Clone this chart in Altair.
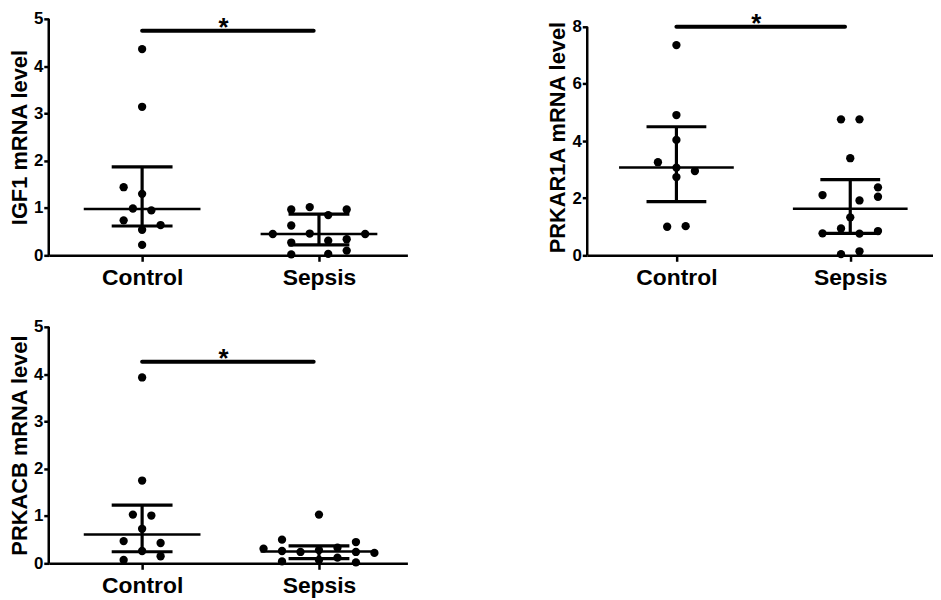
import altair as alt
import pandas as pd

CATEGORIES = ["Control", "Sepsis"]

# ---- IGF1 ----
IGF1_CTRL = [4.36, 3.14, 1.44, 1.30, 0.99, 0.95, 0.74, 0.64, 0.54, 0.22]
IGF1_CTRL_SLOT = [0, 0, -2, 0, -1, 1, -2, 2, 0, 0]
IGF1_SEPS = [1.02, 0.97, 0.97, 0.85, 0.63, 0.46, 0.45, 0.45, 0.34, 0.31, 0.27, 0.10, 0.03, 0.02]
IGF1_SEPS_SLOT = [-1, -3, 3, 1, -3, -1, -5, 5, 3, 1, -3, 3, 1, -3]
IGF1_MEDIAN = [0.98, 0.45]
IGF1_Q1 = [0.62, 0.22]
IGF1_Q3 = [1.87, 0.87]
IGF1_SIG = 4.75
IGF1_TICKS = [0, 1, 2, 3, 4, 5]

# ---- PRKAR1A ----
R1A_CTRL = [7.36, 4.91, 4.04, 3.26, 3.07, 2.95, 2.74, 1.00, 1.02]
R1A_CTRL_SLOT = [0, 0, 0, -2, 0, 2, 0, -1, 1]
R1A_SEPS = [4.76, 4.76, 3.40, 2.11, 2.38, 2.05, 1.92, 1.33, 0.77, 0.94, 0.76, 0.85, 0.04, 0.14]
R1A_SEPS_SLOT = [-1, 1, 0, -3, 3, 3, 1, 0, -3, -1, 1, 3, -1, 1]
R1A_MEDIAN = [3.07, 1.63]
R1A_Q1 = [1.88, 0.77]
R1A_Q3 = [4.50, 2.65]
R1A_SIG = 8.0
R1A_TICKS = [0, 2, 4, 6, 8]

# ---- PRKACB ----
CB_CTRL = [3.93, 1.75, 1.03, 1.01, 0.73, 0.47, 0.43, 0.26, 0.15, 0.07]
CB_CTRL_SLOT = [0, 0, -1, 1, 0, -2, 2, 0, 2, -2]
CB_SEPS = [1.03, 0.50, 0.45, 0.31, 0.26, 0.24, 0.28, 0.33, 0.24, 0.22, 0.04, 0.07, 0.12, 0.02]
CB_SEPS_SLOT = [0, -4, 4, -6, -4, -2, 0, 2, 4, 6, -4, 0, 2, 4]
CB_MEDIAN = [0.61, 0.25]
CB_Q1 = [0.245, 0.10]
CB_Q3 = [1.23, 0.37]
CB_SIG = 4.26
CB_TICKS = [0, 1, 2, 3, 4, 5]

SIG_FROM, SIG_TO, STAR_X = 0.0, 0.97, 0.46
MED_HALF, CAP_HALF = 0.33, 0.172
DOT_STEP_PX = 9.3
FONT = "Liberation Sans"


def make_panel(title, ctrl, ctrl_slot, seps, seps_slot, med, q1, q3, sig,
               yticks, ytop, width, height, xdom):
    ppu = width / (xdom[1] - xdom[0])
    u = DOT_STEP_PX / ppu
    pts = pd.DataFrame({
        "g": [0] * len(ctrl) + [1] * len(seps),
        "v": list(ctrl) + list(seps),
        "s": list(ctrl_slot) + list(seps_slot),
    })
    summ = pd.DataFrame({"g": [0, 1], "med": med, "q1": q1, "q3": q3})
    sigdf = pd.DataFrame({"a": [SIG_FROM], "b": [SIG_TO], "m": [STAR_X],
                          "y": [sig], "t": ["*"]})
    axdf = pd.DataFrame({"y0": [yticks[0]], "y1": [yticks[-1]]})

    xscale = alt.Scale(domain=list(xdom), nice=False, zero=False)
    yscale = alt.Scale(domain=[0, ytop], nice=False, zero=True)
    xaxis = alt.Axis(
        values=[0, 1],
        labelExpr=f"datum.value == 0 ? '{CATEGORIES[0]}' : '{CATEGORIES[1]}'",
        title=None, grid=False, labelFlush=False, labelOverlap=False,
        tickSize=6, tickWidth=2.5, domainWidth=2.5, labelPadding=5,
        labelFontSize=23, labelFontWeight="bold",
    )
    yaxis = alt.Axis(
        values=yticks, title=title, grid=False, domain=False,
        tickSize=5, tickWidth=2.5, labelPadding=1,
        labelFontSize=17, labelFontWeight="bold",
        titleFontSize=22, titleFontWeight="bold", titlePadding=2,
    )

    def X(f):
        return alt.X(f, type="quantitative", scale=xscale, axis=xaxis)

    def Y(f):
        return alt.Y(f, type="quantitative", scale=yscale, axis=yaxis)

    yline = (alt.Chart(axdf)
             .mark_rule(color="black", strokeWidth=2.5)
             .encode(x=alt.value(0), y=Y("y0"), y2=alt.Y2("y1:Q")))
    points = (alt.Chart(pts)
              .transform_calculate(px=f"datum.g + datum.s * {u}")
              .mark_circle(size=70, color="black", opacity=1)
              .encode(x=X("px"), y=Y("v")))
    vert = (alt.Chart(summ)
            .mark_rule(color="black", strokeWidth=3.2)
            .encode(x=X("g"), y=Y("q1"), y2=alt.Y2("q3:Q")))
    caps = (alt.Chart(summ)
            .transform_fold(["q1", "q3"], as_=["k", "qv"])
            .transform_calculate(l=f"datum.g - {CAP_HALF}", r=f"datum.g + {CAP_HALF}")
            .mark_rule(color="black", strokeWidth=3.2)
            .encode(x=X("l"), x2=alt.X2("r:Q"), y=Y("qv")))
    medians = (alt.Chart(summ)
               .transform_calculate(l=f"datum.g - {MED_HALF}", r=f"datum.g + {MED_HALF}")
               .mark_rule(color="black", strokeWidth=2.5)
               .encode(x=X("l"), x2=alt.X2("r:Q"), y=Y("med")))
    sigbar = (alt.Chart(sigdf)
              .mark_rule(color="black", strokeWidth=4, strokeCap="round")
              .encode(x=X("a"), x2=alt.X2("b:Q"), y=Y("y")))
    star = (alt.Chart(sigdf)
            .mark_text(fontSize=26, fontWeight="bold", color="black",
                       baseline="alphabetic", dy=5)
            .encode(x=X("m"), y=Y("y"), text="t:N"))
    return alt.layer(points, vert, caps, medians, sigbar, star, yline).properties(
        width=width, height=height)


p1 = make_panel("IGF1 mRNA level", IGF1_CTRL, IGF1_CTRL_SLOT, IGF1_SEPS, IGF1_SEPS_SLOT,
                IGF1_MEDIAN, IGF1_Q1, IGF1_Q3, IGF1_SIG, IGF1_TICKS, 5,
                361, 238, (-0.528, 1.5))
p2 = make_panel("PRKAR1A mRNA level", R1A_CTRL, R1A_CTRL_SLOT, R1A_SEPS, R1A_SEPS_SLOT,
                R1A_MEDIAN, R1A_Q1, R1A_Q3, R1A_SIG, R1A_TICKS, 8.278,
                348, 238, (-0.513, 1.476))
p3 = make_panel("PRKACB mRNA level", CB_CTRL, CB_CTRL_SLOT, CB_SEPS, CB_SEPS_SLOT,
                CB_MEDIAN, CB_Q1, CB_Q3, CB_SIG, CB_TICKS, 5,
                361, 238, (-0.528, 1.5))

top = alt.hconcat(p1, p2, spacing=140)
chart = (alt.vconcat(top, p3, spacing=29,
                     padding={"left": 0, "top": 0, "right": 0, "bottom": 0})
         .configure(font=FONT)
         .configure_view(stroke=None)
         .configure_axis(domainColor="black", tickColor="black",
                         labelColor="black", titleColor="black"))

chart.save("out.html", embed_options={"renderer": "svg", "actions": False})
